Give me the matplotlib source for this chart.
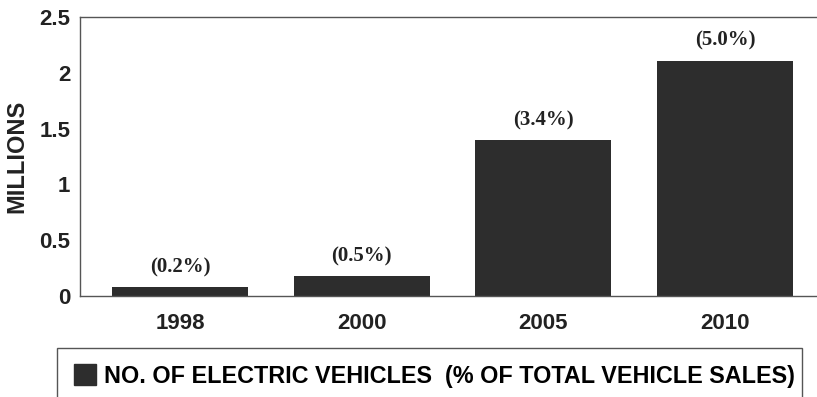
import matplotlib.pyplot as plt
from matplotlib.patches import Patch, Rectangle

# Electric vehicle projections (millions) and share of total sales
years = ['1998', '2000', '2005', '2010']
vehicles = [0.08, 0.18, 1.40, 2.11]
share = ['(0.2%)', '(0.5%)', '(3.4%)', '(5.0%)']

bar_color = '#2d2d2d'
sans = ['Liberation Sans Narrow', 'Liberation Sans', 'DejaVu Sans']

fig = plt.figure(figsize=(8.17, 3.97), dpi=100)
ax = fig.add_axes([80 / 817, 101 / 397, 737 / 817, 279 / 397])

x = range(len(years))
ax.bar(x, vehicles, width=0.75, color=bar_color)

for xi, v, s in zip(x, vehicles, share):
    ax.annotate(s, (xi, v), xytext=(0, 7), textcoords='offset points',
                ha='center', va='bottom', fontsize=15, fontweight='bold',
                family='Liberation Serif', color='#222222')

ax.set_xlim(-0.55, 3.506)
ax.set_ylim(0, 2.5)
ax.set_yticks([0, 0.5, 1, 1.5, 2, 2.5])
ax.set_yticklabels(['0', '0.5', '1', '1.5', '2', '2.5'])
ax.set_xticks(list(x))
ax.set_xticklabels(years)
ax.tick_params(axis='y', length=0, pad=7, labelsize=16)
ax.tick_params(axis='x', length=0, pad=12, labelsize=16)
for lab in ax.get_xticklabels() + ax.get_yticklabels():
    lab.set_fontweight('bold')
    lab.set_family(sans)
    lab.set_color('#222222')

ax.set_ylabel('MILLIONS', fontsize=17, fontweight='bold', family=sans,
              color='#222222', labelpad=8)

for side in ['left', 'top', 'bottom']:
    ax.spines[side].set_color('#555555')
    ax.spines[side].set_linewidth(1.0)
ax.spines['right'].set_visible(False)

# legend box runs off the bottom edge
fig.patches.append(Rectangle((57 / 817, -0.1), 745 / 817, 0.1 + 49 / 397,
                             transform=fig.transFigure, fill=False,
                             edgecolor='#555555', linewidth=1.0))
fig.legend(handles=[Patch(color=bar_color)],
           labels=['NO. OF ELECTRIC VEHICLES  (% OF TOTAL VEHICLE SALES)'],
           loc='center left', bbox_to_anchor=(74 / 817, 21 / 397),
           frameon=False, borderpad=0, borderaxespad=0,
           handlelength=0.95, handleheight=0.95, handletextpad=0.35,
           prop={'family': sans, 'weight': 'bold', 'size': 16.8})

fig.savefig('out.png', dpi=100)
